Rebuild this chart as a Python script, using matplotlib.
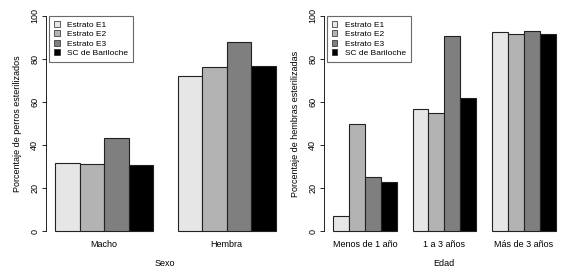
import matplotlib

matplotlib.use("Agg")

import matplotlib.pyplot as plt
import numpy as np
from matplotlib.patches import Patch

plt.rcParams["font.family"] = ["Liberation Sans", "DejaVu Sans"]

series = ["Estrato E1", "Estrato E2", "Estrato E3", "SC de Bariloche"]
colors = ["#e6e6e6", "#b3b3b3", "#7f7f7f", "#000000"]

sexo_labels = ["Macho", "Hembra"]
sexo_e1 = [31.5, 72.1]
sexo_e2 = [31.0, 76.4]
sexo_e3 = [43.1, 88.0]
sexo_sc = [30.9, 76.7]

edad_labels = ["Menos de 1 año", "1 a 3 años", "Más de 3 años"]
edad_e1 = [7.0, 56.7, 92.4]
edad_e2 = [50.0, 55.1, 91.6]
edad_e3 = [25.2, 90.8, 93.0]
edad_sc = [22.8, 61.7, 91.6]


def r_barplot(ax, labels, groups, xlabel, ylabel):
    n_groups = len(labels)
    n_series = len(groups)
    # R beside layout: bars width 1, space 1 between groups
    for g in range(n_groups):
        start = 1 + g * (n_series + 1)
        for s in range(n_series):
            ax.bar(start + s, groups[s][g], width=1, align="edge", color=colors[s],
                   edgecolor="#222222", linewidth=0.8)
    total = n_groups * (n_series + 1)
    pad = 0.04 * (total - 1)
    ax.set_xlim(1 - pad, total + pad)
    ax.set_ylim(-4, 104)
    centers = [1 + g * (n_series + 1) + n_series / 2 for g in range(n_groups)]
    ax.set_xticks(centers, labels)
    ax.tick_params(axis="x", length=0, pad=0.5, labelsize=6.5)
    ax.set_yticks(np.arange(0, 101, 20))
    ax.tick_params(axis="y", length=3, width=0.6, pad=2, labelsize=6.5, labelrotation=90)
    for lab in ax.get_yticklabels():
        lab.set_verticalalignment("center")
    for side in ["top", "right", "bottom"]:
        ax.spines[side].set_visible(False)
    ax.spines["left"].set_bounds(0, 100)
    ax.spines["left"].set_linewidth(0.6)
    ax.set_xlabel(xlabel, fontsize=6.5, labelpad=7)
    ax.set_ylabel(ylabel, fontsize=6.5, labelpad=6)
    handles = [Patch(facecolor=c, edgecolor="#222222", linewidth=0.5) for c in colors]
    leg = ax.legend(handles, series, loc="upper left", bbox_to_anchor=(0.0, 0.975),
                    fontsize=6, frameon=True, fancybox=False, borderpad=0.6,
                    handlelength=0.7, handleheight=0.7, handletextpad=0.9,
                    labelspacing=0.2, borderaxespad=0.3)
    leg.get_frame().set_edgecolor("#444444")
    leg.get_frame().set_linewidth(0.8)
    leg.get_frame().set_boxstyle("square", pad=0)


fig = plt.figure(figsize=(5.67, 2.74), dpi=100)
ax1 = fig.add_axes([0.0815, 0.1255, 0.42, 0.8475])
ax2 = fig.add_axes([0.5716, 0.1255, 0.4242, 0.8475])

r_barplot(ax1, sexo_labels, [sexo_e1, sexo_e2, sexo_e3, sexo_sc],
          "Sexo", "Porcentaje de perros esterilizados")
r_barplot(ax2, edad_labels, [edad_e1, edad_e2, edad_e3, edad_sc],
          "Edad", "Porcentaje de hembras esterilizadas")

fig.savefig("out.png", dpi=100)
